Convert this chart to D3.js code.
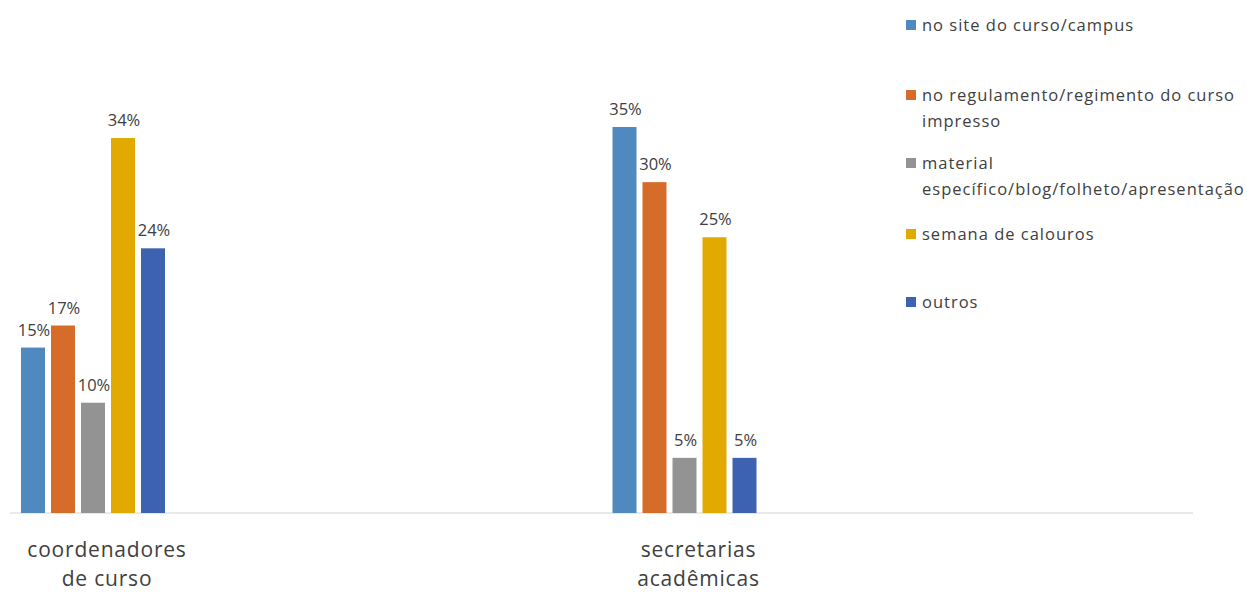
<!DOCTYPE html>
<html>
<head>
<meta charset="utf-8">
<script src="https://cdn.jsdelivr.net/npm/d3@7"></script>
<style>
  body { margin: 0; background: #fff; }
  text { font-family: "Open Sans", sans-serif; fill: #404040; }
</style>
</head>
<body>
<svg id="canvas" width="1247" height="592"></svg>
<script>
let categories = [["coordenadores", "de curso"], ["secretarias", "acadêmicas"]]
let categoryKeys = ["coord", "secr"]
let seriesNames = [
  ["no site do curso/campus"],
  ["no regulamento/regimento do curso", "impresso"],
  ["material", "específico/blog/folheto/apresentação"],
  ["semana de calouros"],
  ["outros"]
]
let seriesColors = ["#4f89bf", "#d56c2a", "#939393", "#e2a900", "#3d62b0"]
// percent values, one array per category
let coordValues = [15, 17, 10, 34, 24]
let secrValues = [35, 30, 5, 25, 5]
let values = [coordValues, secrValues]

let svg = d3.select('#canvas')

let x0 = d3.scaleBand().domain(categoryKeys).range([10, 1193])
let x1 = d3.scaleBand().domain(d3.range(seriesNames.length)).range([11, 155]).paddingInner(0.2)
let y = d3.scaleLinear().domain([0, 35]).range([513, 127])

// axis line
svg.append('line')
   .attr('x1', 10).attr('x2', 1193)
   .attr('y1', y(0)).attr('y2', y(0))
   .attr('stroke', '#d4d4d4')
   .attr('stroke-width', 1)

let groups = svg.selectAll('g.cat')
   .data(categoryKeys)
   .enter()
   .append('g')
   .attr('class', 'cat')
   .attr('transform', (d) => 'translate(' + x0(d) + ',0)')

groups.selectAll('rect')
   .data((d, i) => values[i])
   .enter()
   .append('rect')
   .attr('x', (d, i) => x1(i))
   .attr('y', (d) => y(d))
   .attr('width', x1.bandwidth())
   .attr('height', (d) => y(0) - y(d))
   .attr('fill', (d, i) => seriesColors[i])

groups.selectAll('text.val')
   .data((d, i) => values[i])
   .enter()
   .append('text')
   .attr('class', 'val')
   .attr('x', (d, i) => x1(i) + x1.bandwidth() / 2 + 1)
   .attr('y', (d) => y(d) - 12)
   .attr('text-anchor', 'middle')
   .style('font-size', '16.5px')
   .text((d) => d + '%')

// category labels
groups.append('text')
   .attr('x', 97)
   .attr('text-anchor', 'middle')
   .style('font-size', '21px')
   .style('letter-spacing', '0.8px')
   .selectAll('tspan')
   .data((d, i) => categories[i])
   .enter()
   .append('tspan')
   .attr('x', 97)
   .attr('y', (d, i) => 557 + i * 29)
   .text((d) => d)

// legend
let legendY = [25, 95, 163, 234, 302]
let legend = svg.selectAll('g.legend')
   .data(seriesNames)
   .enter()
   .append('g')
   .attr('class', 'legend')
   .attr('transform', (d, i) => 'translate(906,' + legendY[i] + ')')

legend.append('rect')
   .attr('x', 0).attr('y', -5)
   .attr('width', 10).attr('height', 10)
   .attr('fill', (d, i) => seriesColors[i])

legend.append('text')
   .style('font-size', '16.5px')
   .style('letter-spacing', '1px')
   .selectAll('tspan')
   .data((d) => d)
   .enter()
   .append('tspan')
   .attr('x', 16)
   .attr('y', (d, i) => 6 + i * 26)
   .text((d) => d)
</script>
</body>
</html>
